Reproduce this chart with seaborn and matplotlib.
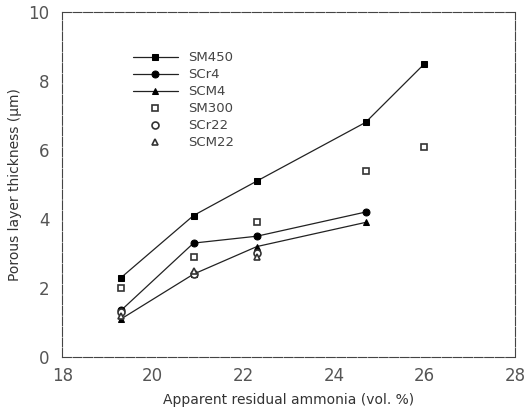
import numpy as np
import pandas as pd
import matplotlib
matplotlib.use("Agg")
import matplotlib.pyplot as plt
import seaborn as sns

# Data
x_vals = [19.3, 20.9, 22.3, 24.7, 26.0]
sm450 = [2.3, 4.1, 5.1, 6.8, 8.5]
scr4 = [1.35, 3.3, 3.5, 4.2]
scm4 = [1.1, 2.4, 3.2, 3.9]
sm300 = [2.0, 2.9, 3.9, 5.4, 6.1]
scr22 = [1.3, 2.4, 3.0]
scm22 = [1.2, 2.5, 2.9]

series_names = ["SM450", "SCr4", "SCM4", "SM300", "SCr22", "SCM22"]
series_values = [sm450, scr4, scm4, sm300, scr22, scm22]
markers = ["s", "o", "^", "s", "o", "^"]
filled = [True, True, True, False, False, False]

x_ticks = [18, 20, 22, 24, 26, 28]
y_ticks = [0, 2, 4, 6, 8, 10]

sns.set_theme(style="white")
plt.rcParams["font.family"] = ["DejaVu Sans"]

fig = plt.figure(figsize=(5.32, 4.15), dpi=100)
ax = fig.add_axes([0.117, 0.14, 0.851, 0.831])

for name, vals, mk, fl in zip(series_names, series_values, markers, filled):
    df = pd.DataFrame({"x": x_vals[:len(vals)], "y": vals})
    if fl:
        sns.lineplot(data=df, x="x", y="y", ax=ax, color="#222222", linewidth=0.9,
                     marker=mk, markersize=5, markerfacecolor="black",
                     markeredgecolor="black", label=name)
    else:
        sns.lineplot(data=df, x="x", y="y", ax=ax, color="#222222", linewidth=0,
                     marker=mk, markersize=5, markerfacecolor="white",
                     markeredgecolor="#333333", markeredgewidth=1.2, label=name)

ax.set_xlim(18, 28)
ax.set_ylim(0, 10)
ax.set_xticks(x_ticks)
ax.set_yticks(y_ticks)
ax.set_xticklabels([str(t) for t in x_ticks], fontsize=12)
ax.set_yticklabels([str(t) for t in y_ticks], fontsize=12)
ax.tick_params(direction="in", length=5, width=0.8, colors="#333333", labelcolor="#555555")
ax.tick_params(axis="x", pad=7)
ax.tick_params(axis="y", pad=9)
for sp in ax.spines.values():
    sp.set_color("#444444")
    sp.set_linewidth(0.8)
    sp.set_linestyle((0, (8, 1.5)))

ax.set_xlabel("Apparent residual ammonia (vol. %)", fontsize=10, color="#333333", labelpad=6)
ax.set_ylabel("Porous layer thickness (\u03bcm)", fontsize=10, color="#333333", labelpad=5)

leg = ax.legend(loc="upper left", bbox_to_anchor=(0.13, 0.92), frameon=False,
                fontsize=9.5, handlelength=3.4, labelspacing=0.3, handletextpad=0.8)
for t in leg.get_texts():
    t.set_color("#444444")

fig.savefig("out.png", dpi=100)
